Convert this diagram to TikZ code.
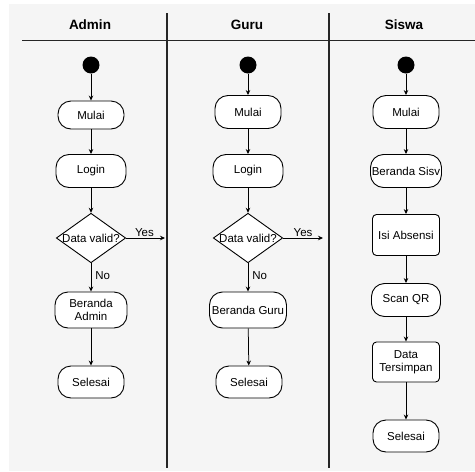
\documentclass[tikz,border=0pt]{standalone}
\usepackage{fontspec}
\setmainfont{Liberation Sans}
\usepackage{tikz}
\usetikzlibrary{arrows.meta, positioning, shapes.geometric}

\begin{document}
\begin{tikzpicture}[
    x=1pt, y=-1pt,
    lane/.style={line width=1.1pt, draw=black!85},
    head/.style={font=\fontsize{13.5}{15}\selectfont\bfseries},
    start/.style={circle, fill=black, minimum size=17pt, inner sep=0pt},
    act/.style={draw, line width=0.9pt, rounded corners=13pt, fill=white,
                minimum height=33pt, minimum width=66pt, inner xsep=1pt,
                font=\fontsize{11.5}{12.5}\selectfont, align=center},
    box/.style={draw, line width=0.9pt, rounded corners=4pt, fill=white,
                minimum height=41pt, minimum width=67pt, inner xsep=1pt,
                font=\fontsize{11.5}{12.5}\selectfont, align=center},
    dec/.style={draw, line width=0.9pt, diamond, shape aspect=1.4, fill=white,
                inner sep=0pt, font=\fontsize{11.5}{12.5}\selectfont},
    lbl/.style={font=\fontsize{11.5}{12.5}\selectfont, inner sep=1pt},
    arr/.style={-{Stealth[length=5pt, width=4.5pt]}, line width=0.75pt}
  ]
  \useasboundingbox (0,0) rectangle (475,472);
  \fill[black!4] (9,4) rectangle (475,471);

  % lanes
  \draw[lane] (22,40.5) -- (475,40.5);
  \draw[lane] (167,13) -- (167,468);
  \draw[lane] (329,13) -- (329,468);
  \node[head] (hAdmin) at (90,25)  {Admin};
  \node[head] (hGuru)  at (247,25) {Guru};
  \node[head] (hSiswa) at (404,25) {Siswa};

  % Admin
  \node[start] (a0) at (91,65) {};
  \node[act, minimum height=28pt] (a1) at (91,115) {Mulai};
  \node[act, minimum width=70pt]  (a2) at (91,171) {Login};
  \node[dec] (a3) at (91,238) {Data valid?};
  \node[act, minimum height=36pt, minimum width=72pt] (a4) at (91,310) {Beranda\\Admin};
  \node[act, minimum height=32pt] (a5) at (91,382) {Selesai};
  \coordinate (aYes) at (165,238);
  \draw[arr] (a0) -- (a1);
  \draw[arr] (a1) -- (a2);
  \draw[arr] (a2) -- (a3);
  \draw[arr] (a3) -- node[lbl, above, pos=0.47] {Yes} (aYes);
  \draw[arr] (a3) -- node[lbl, right, inner sep=4pt, pos=0.45] {No} (a4);
  \draw[arr] (a4) -- (a5);

  % Guru
  \node[start] (g0) at (248,65) {};
  \node[act] (g1) at (248,112) {Mulai};
  \node[act, minimum width=70pt] (g2) at (248,171) {Login};
  \node[dec] (g3) at (248,238) {Data valid?};
  \node[act, minimum height=36pt, minimum width=77pt] (g4) at (248,310) {Beranda Guru};
  \node[act, minimum height=32pt] (g5) at (249,382) {Selesai};
  \coordinate (gYes) at (323,238);
  \draw[arr] (g0) -- (g1);
  \draw[arr] (g1) -- (g2);
  \draw[arr] (g2) -- (g3);
  \draw[arr] (g3) -- node[lbl, above, pos=0.5] {Yes} (gYes);
  \draw[arr] (g3) -- node[lbl, right, inner sep=4pt, pos=0.45] {No} (g4);
  \draw[arr] (g4) -- (g5);

  % Siswa
  \node[start] (s0) at (406,65) {};
  \node[act] (s1) at (406,112) {Mulai};
  \node[act, minimum width=71pt] (s2) at (406,171) {Beranda Sisv};
  \node[box] (s3) at (406,235) {Isi Absensi};
  \node[act, minimum width=69pt] (s4) at (406,300) {Scan QR};
  \node[box, minimum height=40pt] (s5) at (406,362) {Data\\Tersimpan};
  \node[act, minimum height=32pt] (s6) at (406,436) {Selesai};
  \draw[arr] (s0) -- (s1);
  \draw[arr] (s1) -- (s2);
  \draw[arr] (s2) -- (s3);
  \draw[arr] (s3) -- (s4);
  \draw[arr] (s4) -- (s5);
  \draw[arr] (s5) -- (s6);
\end{tikzpicture}
\end{document}
